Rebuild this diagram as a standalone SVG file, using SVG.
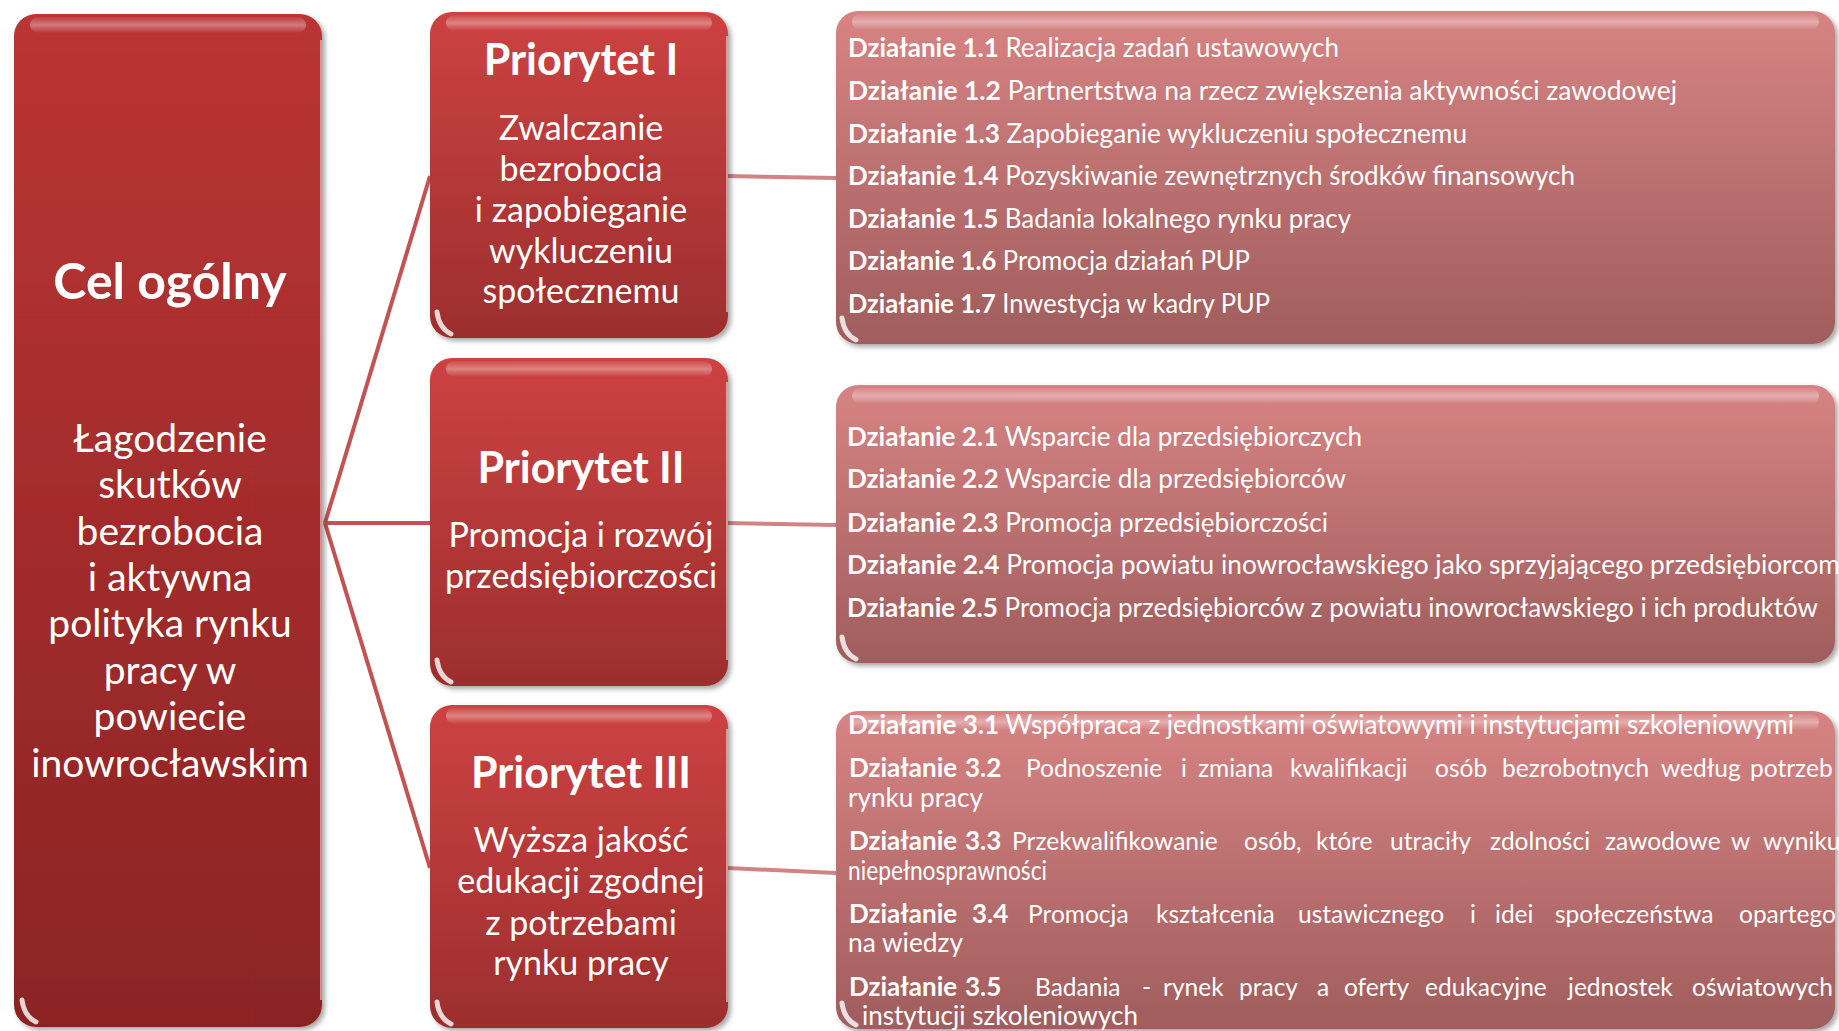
<svg xmlns="http://www.w3.org/2000/svg" width="1839" height="1031" viewBox="0 0 1839 1031">
<defs>
<linearGradient id="gL" x1="0" y1="0" x2="0" y2="1"><stop offset="0" stop-color="#bb3434"/><stop offset="1" stop-color="#8b2424"/></linearGradient>
<linearGradient id="gP" x1="0" y1="0" x2="0" y2="1"><stop offset="0" stop-color="#cd4242"/><stop offset="1" stop-color="#9d2e2e"/></linearGradient>
<linearGradient id="gA" x1="0" y1="0" x2="0" y2="1"><stop offset="0" stop-color="#d78383"/><stop offset="1" stop-color="#a05d5d"/></linearGradient>
<linearGradient id="gloss" x1="0" y1="0" x2="0" y2="1"><stop offset="0" stop-color="#fff" stop-opacity="0.05"/><stop offset="0.5" stop-color="#fff" stop-opacity="0.35"/><stop offset="1" stop-color="#fff" stop-opacity="0"/></linearGradient>
<filter id="sh" x="-5%" y="-5%" width="110%" height="110%"><feDropShadow dx="3" dy="3" stdDeviation="2.5" flood-color="#000" flood-opacity="0.35"/></filter>
</defs>
<style>
.lbox{fill:url(#gL);filter:url(#sh)}
.pbox{fill:url(#gP);filter:url(#sh)}
.abox{fill:url(#gA);filter:url(#sh)}
.gloss{fill:url(#gloss)}
.glint{fill:none;stroke:#fff;stroke-opacity:0.8;stroke-width:5;stroke-linecap:round}
.edge{stroke:#ffd0d0;stroke-opacity:0.6;stroke-width:2}
.t{font-family:Lato,"Open Sans","Liberation Sans",sans-serif;fill:#fff}
.h1{font-size:50px;font-weight:bold;text-anchor:middle}
.h2{font-size:43px;font-weight:bold;text-anchor:middle}
.big{font-size:39px;text-anchor:middle}
.mid{font-size:34px;text-anchor:middle}
.act{font-size:26px}
.j{font-size:24.5px}
.b{font-weight:bold;font-size:26px}
.c1{stroke:#c55252;stroke-width:4;fill:none}
.c2{stroke:#d08484;stroke-width:4;fill:none}
</style>

<g id="connectors">
<path class="c1" d="M325,523 L430,176"/>
<path class="c1" d="M325,523 L430,523"/>
<path class="c1" d="M325,523 L430,868"/>
<path class="c2" d="M728,176 L836,178"/>
<path class="c2" d="M728,523 L836,525"/>
<path class="c2" d="M728,868 L836,873"/>
</g>

<g id="cel">
<rect class="lbox" x="14" y="14" width="308" height="1013" rx="22"/>
<rect class="gloss" x="30" y="17" width="276" height="16" rx="8"/>
<line class="edge" x1="321" y1="40" x2="321" y2="1000"/>
<path class="glint" d="M22,1000 Q24,1016 36,1022"/>
<text class="t h1" x="170" y="299">Cel ogólny</text>
<text class="t big" x="170" y="452">Łagodzenie</text>
<text class="t big" x="170" y="498">skutków</text>
<text class="t big" x="170" y="545">bezrobocia</text>
<text class="t big" x="170" y="591">i aktywna</text>
<text class="t big" x="170" y="637">polityka rynku</text>
<text class="t big" x="170" y="684">pracy w</text>
<text class="t big" x="170" y="730">powiecie</text>
<text class="t big" x="170" y="777">inowrocławskim</text>
</g>

<g id="priorytet1">
<rect class="pbox" x="430" y="12" width="298" height="326" rx="22"/>
<rect class="gloss" x="446" y="15" width="266" height="16" rx="8"/>
<line class="edge" x1="727" y1="36" x2="727" y2="312"/>
<path class="glint" d="M437,312 Q439,328 451,334"/>
<text class="t h2" x="581" y="75">Priorytet I</text>
<text class="t mid" x="581" y="140">Zwalczanie</text>
<text class="t mid" x="581" y="181">bezrobocia</text>
<text class="t mid" x="581" y="222">i zapobieganie</text>
<text class="t mid" x="581" y="263">wykluczeniu</text>
<text class="t mid" x="581" y="303">społecznemu</text>
</g>

<g id="priorytet2">
<rect class="pbox" x="430" y="358" width="298" height="328" rx="22"/>
<rect class="gloss" x="446" y="361" width="266" height="16" rx="8"/>
<line class="edge" x1="727" y1="382" x2="727" y2="660"/>
<path class="glint" d="M437,660 Q439,676 451,682"/>
<text class="t h2" x="581" y="483">Priorytet II</text>
<text class="t mid" x="581" y="547">Promocja i rozwój</text>
<text class="t mid" x="581" y="588">przedsiębiorczości</text>
</g>

<g id="priorytet3">
<rect class="pbox" x="430" y="705" width="298" height="323" rx="22"/>
<rect class="gloss" x="446" y="708" width="266" height="16" rx="8"/>
<line class="edge" x1="727" y1="729" x2="727" y2="1002"/>
<path class="glint" d="M437,1002 Q439,1018 451,1024"/>
<text class="t h2" x="581" y="788">Priorytet III</text>
<text class="t mid" x="581" y="852">Wyższa jakość</text>
<text class="t mid" x="581" y="893">edukacji zgodnej</text>
<text class="t mid" x="581" y="935">z potrzebami</text>
<text class="t mid" x="581" y="975">rynku pracy</text>
</g>

<g id="dzialania1">
<rect class="abox" x="836" y="11" width="999" height="333" rx="22"/>
<rect class="gloss" x="852" y="14" width="967" height="16" rx="8"/>
<path class="glint" d="M842,318 Q844,334 856,340"/>
<text class="t act" x="848" y="57" textLength="491" lengthAdjust="spacingAndGlyphs"><tspan class="b">Działanie 1.1</tspan> Realizacja zadań ustawowych</text>
<text class="t act" x="848" y="100" textLength="829" lengthAdjust="spacingAndGlyphs"><tspan class="b">Działanie 1.2</tspan>  Partnertstwa  na rzecz zwiększenia aktywności zawodowej</text>
<text class="t act" x="848" y="143" textLength="619" lengthAdjust="spacingAndGlyphs"><tspan class="b">Działanie 1.3</tspan>  Zapobieganie wykluczeniu społecznemu</text>
<text class="t act" x="848" y="185" textLength="727" lengthAdjust="spacingAndGlyphs"><tspan class="b">Działanie 1.4</tspan> Pozyskiwanie zewnętrznych środków finansowych</text>
<text class="t act" x="848" y="228" textLength="503" lengthAdjust="spacingAndGlyphs"><tspan class="b">Działanie 1.5</tspan> Badania lokalnego rynku pracy</text>
<text class="t act" x="848" y="270" textLength="402" lengthAdjust="spacingAndGlyphs"><tspan class="b">Działanie 1.6</tspan> Promocja działań PUP</text>
<text class="t act" x="848" y="313" textLength="422" lengthAdjust="spacingAndGlyphs"><tspan class="b">Działanie 1.7</tspan> Inwestycja w kadry PUP</text>
</g>

<g id="dzialania2">
<rect class="abox" x="836" y="385" width="999" height="278" rx="22"/>
<rect class="gloss" x="852" y="388" width="967" height="16" rx="8"/>
<path class="glint" d="M842,637 Q844,653 856,659"/>
<text class="t act" x="847" y="446" textLength="515" lengthAdjust="spacingAndGlyphs"><tspan class="b">Działanie 2.1</tspan> Wsparcie dla przedsiębiorczych</text>
<text class="t act" x="847" y="488" textLength="499" lengthAdjust="spacingAndGlyphs"><tspan class="b">Działanie 2.2</tspan> Wsparcie dla przedsiębiorców</text>
<text class="t act" x="847" y="532" textLength="481" lengthAdjust="spacingAndGlyphs"><tspan class="b">Działanie 2.3</tspan> Promocja przedsiębiorczości</text>
<text class="t act" x="847" y="574" textLength="993" lengthAdjust="spacingAndGlyphs"><tspan class="b">Działanie 2.4</tspan> Promocja powiatu inowrocławskiego jako  sprzyjającego przedsiębiorcom</text>
<text class="t act" x="847" y="617" textLength="971" lengthAdjust="spacingAndGlyphs"><tspan class="b">Działanie 2.5</tspan> Promocja przedsiębiorców z powiatu inowrocławskiego i ich produktów</text>
</g>

<g id="dzialania3">
<rect class="abox" x="836" y="711" width="999" height="318" rx="22"/>
<rect class="gloss" x="852" y="714" width="967" height="16" rx="8"/>
<path class="glint" d="M842,1003 Q844,1019 856,1025"/>
<text class="t act" x="848" y="734" textLength="946" lengthAdjust="spacingAndGlyphs"><tspan class="b">Działanie 3.1</tspan> Współpraca z jednostkami oświatowymi i instytucjami szkoleniowymi</text>
<text class="t j" y="777"><tspan class="b" x="849">Działanie</tspan><tspan class="b" x="965">3.2</tspan><tspan x="1026">Podnoszenie</tspan><tspan x="1181">i</tspan><tspan x="1198">zmiana</tspan><tspan x="1290">kwalifikacji</tspan><tspan x="1435">osób</tspan><tspan x="1502">bezrobotnych</tspan><tspan x="1661">według</tspan><tspan x="1750">potrzeb</tspan></text>
<text class="t act" x="848" y="807" textLength="135" lengthAdjust="spacingAndGlyphs">rynku pracy</text>
<text class="t j" y="850"><tspan class="b" x="849">Działanie</tspan><tspan class="b" x="965">3.3</tspan><tspan x="1012">Przekwalifikowanie</tspan><tspan x="1244">osób,</tspan><tspan x="1316">które</tspan><tspan x="1390">utraciły</tspan><tspan x="1490">zdolności</tspan><tspan x="1605">zawodowe</tspan><tspan x="1731">w</tspan><tspan x="1763">wyniku</tspan></text>
<text class="t act" x="848" y="880" textLength="199" lengthAdjust="spacingAndGlyphs">niepełnosprawności</text>
<text class="t j" y="923"><tspan class="b" x="849">Działanie</tspan><tspan class="b" x="972">3.4</tspan><tspan x="1028">Promocja</tspan><tspan x="1156">kształcenia</tspan><tspan x="1298">ustawicznego</tspan><tspan x="1470">i</tspan><tspan x="1495">idei</tspan><tspan x="1555">społeczeństwa</tspan><tspan x="1739">opartego</tspan></text>
<text class="t act" x="848" y="952" textLength="115" lengthAdjust="spacingAndGlyphs">na wiedzy</text>
<text class="t j" y="996"><tspan class="b" x="849">Działanie</tspan><tspan class="b" x="965">3.5</tspan><tspan x="1035">Badania</tspan><tspan x="1142">-</tspan><tspan x="1163">rynek</tspan><tspan x="1239">pracy</tspan><tspan x="1317">a</tspan><tspan x="1344">oferty</tspan><tspan x="1425">edukacyjne</tspan><tspan x="1568">jednostek</tspan><tspan x="1692">oświatowych</tspan></text>
<text class="t act" x="862" y="1025" textLength="276" lengthAdjust="spacingAndGlyphs">instytucji szkoleniowych</text>
</g>
</svg>
